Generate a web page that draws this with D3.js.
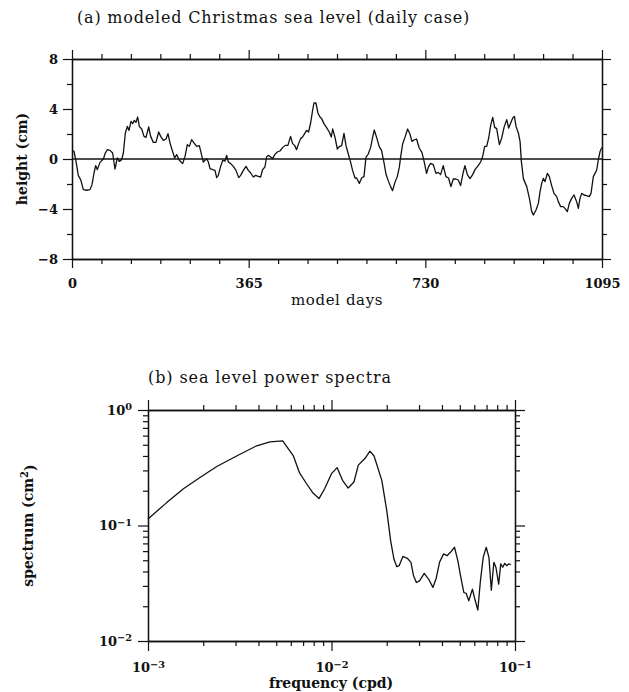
<!DOCTYPE html>
<html>
<head>
<meta charset="utf-8">
<script src="https://cdn.jsdelivr.net/npm/d3@7"></script>
<style>
  html, body { margin: 0; padding: 0; background: #fff; }
  svg { display: block; }
  text { font-family: "DejaVu Serif", "Liberation Serif", serif; fill: #111; }
</style>
</head>
<body>
<svg id="chart" width="629" height="692"></svg>
<script>
// ---------- Panel (a): modeled sea level (days, cm) ----------
const days = [0,4.1,8.3,13.1,17.9,23.4,30.3,37.2,41.3,45.5,48.9,52.4,57.9,64.8,68.9,73,78.5,84,88.8,93.7,97.8,102.6,106.1,110.2,114.3,117.8,121.9,125.4,128.8,132.2,135.7,139.1,144,148.8,152.9,158.4,162.5,168,173.5,179.1,183.2,188.7,194.2,198.3,202.5,206.6,212.1,216.2,221.8,228.6,233.5,238.3,242.4,247.2,252,257.6,263.1,
267.9,271.3,274.8,278.2,281.7,285.1,290.6,295.4,298.9,302.3,307.1,311.3,316.1,319.5,323,327.8,333.3,338.8,344.4,348.5,354,359.5,364.3,369.1,374.6,379.4,384.9,389.7,393.8,398.6,402,405.5,410.3,414.5,419.3,424.1,429.6,435.1,440.6,446.1,451.6,455.8,459.9,464,468.2,472.3,476.4,480.6,484.7,488.8,493,497.1,499.9,504,508.1,512.3,515.7,520.5,526,531.5,
535.7,538.5,543.4,548.2,552.3,557.1,561.9,566.1,570.9,575.7,579.8,584.7,588.1,593.6,598.4,603.2,607.3,612.1,617,621.1,624.5,629.3,634.8,639.6,644.5,648.6,653.4,658.2,662.4,667.2,672,676.2,678.9,683.1,687.9,693.4,698.2,702.3,706.4,711.9,717.4,722.9,727.1,732.6,736.7,740.9,746.4,751.9,756.7,761.5,767,772.5,778,782.9,787.7,793.2,798,802.8,808.3,811.8,
816.8,822.3,827.8,832.6,839.5,844.3,848.5,852.6,856.7,860.9,865,869.2,873.3,877.4,883,887.8,892.6,898.1,902.2,906.4,910.5,914,917.4,922.2,925.7,928.4,932.6,
939.5,945,949.8,953.2,958.7,963.5,967,970.4,973.8,977.3,982.1,986.2,991,995.8,1001.4,1004.8,1009.6,1015.1,1018.5,1023.4,1027.5,1032.3,1037.1,1042.6,1046.1,1049.5,1053,1057.8,1063.3,1068.8,1072.3,1077.1,1080.5,1084,1087.4,1090.9,1094.3];
const heights = [0.69,0.62,-0.19,-1.33,-1.65,-2.45,-2.5,-2.45,-2.05,-1.12,-0.53,-0.85,-0.27,0,0.48,0.75,0.69,0.48,-0.8,0.08,-0.19,-0.05,0.48,2.08,2.61,2.29,3.01,2.83,3.09,2.93,3.36,2.61,2.4,1.81,1.73,2.56,1.81,1.33,1.33,2.16,1.81,1.49,1.6,2.03,1.28,0.75,0.08,0.35,-0.1,-0.37,0.21,1.15,1.01,1.55,1.28,1.01,1.07,
0.29,-0.24,-0.1,0.03,-0.24,-0.77,-0.85,-0.91,-1.49,-1.31,-0.59,-0.11,-0.16,0.29,-0.24,-0.37,-0.59,-0.91,-1.49,-1.31,-0.91,-0.59,-0.91,-1.12,-1.44,-1.31,-1.39,-1.44,-0.85,-0.64,0.16,0.29,0.16,0.03,0.37,0.56,0.64,0.91,1.09,1.09,1.81,1.23,1.09,0.75,1.23,1.63,1.76,2.03,2.29,2.16,2.88,3.89,4.48,4.48,3.68,3.36,3.23,2.83,2.51,2.16,
1.76,2.4,1.73,0.8,0.99,1.07,2.05,1.07,0.4,-0.27,-0.93,-1.52,-1.52,-1.95,-1.52,-1.41,0.13,0.4,0.93,1.73,2.32,1.73,0.99,0.67,-0.27,-1.2,-1.73,-2.21,-2.53,-1.87,-1.41,-0.67,0.13,1.2,1.73,2.4,2.0,1.41,1.52,1.6,0.88,0.53,-0.13,-1.15,-0.61,-0.35,-0.45,-1.15,-1.07,-1.25,-0.53,-1.41,-1.52,-2.21,-1.6,-1.6,-1.68,-2.13,-1.07,-0.53,
-1.25,-1.57,-1.25,-0.85,-0.51,-0.24,0.21,1.01,1.01,1.68,2.69,3.33,2.53,2.43,1.15,1.68,2.53,3.15,2.48,2.88,3.28,3.41,2.61,2.08,1.41,-0.19,-1.57,
-2.21,-3.15,-4.21,-4.48,-4.08,-3.55,-2.61,-1.95,-1.55,-1.81,-1.15,-1.41,-2.13,-2.75,-3.01,-3.41,-3.81,-3.81,-3.95,-4.21,-3.55,-3.15,-2.88,-3.41,-3.95,-3.15,-2.75,-2.88,-2.93,-3.01,-2.75,-1.41,-1.15,-0.88,-0.08,0.59,0.91];
const dayTicksMajor = [0, 365, 730, 1095];
const heightTicksMajor = [-8, -4, 0, 4, 8];
const heightTicksMinor = [-6, -2, 2, 6];

// ---------- Panel (b): power spectrum (cpd, cm^2) ----------
const freq = [0.001,0.00126,0.00156,0.00192,0.00237,0.00304,0.00391,0.00462,0.00542,0.0062,0.0067,0.0073,0.00793,0.00855,0.00919,0.01,0.01074,0.01148,0.01233,0.01325,0.014,0.0152,0.0162,0.01706,0.0188,0.02,0.021,0.0219,0.0227,0.0234,0.0245,0.0259,0.0271,0.028,0.029,0.0302,0.032,0.0338,0.0357,0.0372,0.0388,0.0408,0.0426,0.0445,0.0468,0.0488,0.0505,0.0526,0.0542,0.056,0.0586,0.0601,0.0627,0.0648,0.0671,0.0697,0.0721,0.0743,0.0767,0.0787,0.0815,0.0836,0.0857,0.0879,0.0901,0.0924,0.0948];
const spectrum = [0.114,0.157,0.208,0.26,0.324,0.40,0.49,0.53,0.54,0.40,0.285,0.231,0.191,0.171,0.209,0.281,0.317,0.246,0.211,0.238,0.333,0.38,0.44,0.40,0.246,0.135,0.074,0.051,0.044,0.045,0.054,0.052,0.048,0.0367,0.0321,0.0332,0.0385,0.0344,0.0291,0.035,0.048,0.0568,0.0548,0.0586,0.0648,0.0497,0.0367,0.0263,0.0258,0.0223,0.0281,0.0238,0.0185,0.0332,0.053,0.0648,0.053,0.0275,0.048,0.0435,0.0311,0.0465,0.0435,0.047,0.0449,0.0465,0.0458];
const freqTicksMajor = [0.001, 0.01, 0.1];
const freqExp = ["\u22123", "\u22122", "\u22121"];
const specTicksMajor = [0.01, 0.1, 1];
const specExp = ["\u22122", "\u22121", "0"];

const svg = d3.select("#chart");
const INK = "#111";

function styleAxis(g) {
  g.selectAll("path.domain").attr("stroke", INK).attr("stroke-width", 1.3);
  g.selectAll(".tick line").attr("stroke", INK).attr("stroke-width", 1.2);
  g.selectAll(".tick text")
    .attr("font-family", '"DejaVu Serif", serif')
    .attr("font-weight", "bold")
    .attr("font-size", 13)
    .attr("fill", INK);
}

// ================= Panel (a) =================
const xA = d3.scaleLinear().domain([0, 1095]).range([72, 602]);
const yA = d3.scaleLinear().domain([-8, 8]).range([259, 59]);
const dayMinor = d3.range(0, 1095.1, 365 / 6).filter(d => !dayTicksMajor.some(m => Math.abs(m - d) < 1));

svg.append("text").attr("x", 77).attr("y", 23)
  .attr("font-size", 16).attr("letter-spacing", 0.8).text("(a) modeled Christmas sea level (daily case)");

// bottom
svg.append("g").attr("transform", `translate(0,${yA(-8)})`)
  .call(d3.axisBottom(xA).tickValues(dayMinor).tickSize(5).tickSizeOuter(0).tickFormat(""))
  .call(styleAxis);
svg.append("g").attr("transform", `translate(0,${yA(-8)})`)
  .call(d3.axisBottom(xA).tickValues(dayTicksMajor).tickSize(9).tickSizeOuter(0).tickPadding(11).tickFormat(d3.format("d")))
  .call(styleAxis);
// top
svg.append("g").attr("transform", `translate(0,${yA(8)})`)
  .call(d3.axisTop(xA).tickValues(dayMinor).tickSize(5).tickSizeOuter(0).tickFormat(""))
  .call(styleAxis);
svg.append("g").attr("transform", `translate(0,${yA(8)})`)
  .call(d3.axisTop(xA).tickValues(dayTicksMajor).tickSize(9).tickSizeOuter(0).tickFormat(""))
  .call(styleAxis);
// left
svg.append("g").attr("transform", `translate(${xA(0)},0)`)
  .call(d3.axisLeft(yA).tickValues(heightTicksMinor).tickSize(5).tickSizeOuter(0).tickFormat(""))
  .call(styleAxis);
svg.append("g").attr("transform", `translate(${xA(0)},0)`)
  .call(d3.axisLeft(yA).tickValues(heightTicksMajor).tickSize(9).tickSizeOuter(0).tickPadding(5).tickFormat(d => d < 0 ? "\u2212" + Math.abs(d) : String(d)))
  .call(styleAxis);
// right
svg.append("g").attr("transform", `translate(${xA(1095)},0)`)
  .call(d3.axisRight(yA).tickValues(heightTicksMinor).tickSize(5).tickSizeOuter(0).tickFormat(""))
  .call(styleAxis);
svg.append("g").attr("transform", `translate(${xA(1095)},0)`)
  .call(d3.axisRight(yA).tickValues(heightTicksMajor).tickSize(9).tickSizeOuter(0).tickFormat(""))
  .call(styleAxis);

// zero line
svg.append("line").attr("x1", xA(0)).attr("x2", xA(1095)).attr("y1", yA(0)).attr("y2", yA(0))
  .attr("stroke", INK).attr("stroke-width", 1.3);

svg.append("path")
  .datum(days.map((d, i) => [d, heights[i]]))
  .attr("fill", "none").attr("stroke", INK).attr("stroke-width", 1.3).attr("stroke-linejoin", "round")
  .attr("d", d3.line().x(d => xA(d[0])).y(d => yA(d[1])));

svg.append("text").attr("x", 337).attr("y", 305).attr("text-anchor", "middle")
  .attr("font-size", 15).attr("letter-spacing", 0.6).text("model days");
svg.append("text").attr("transform", `translate(27,${yA(0)}) rotate(-90)`).attr("text-anchor", "middle")
  .attr("font-size", 14).attr("font-weight", "bold").text("height (cm)");

// ================= Panel (b) =================
const xB = d3.scaleLog().domain([1e-3, 1e-1]).range([148, 515]);
const yB = d3.scaleLog().domain([1e-2, 1]).range([641, 410]);
const logMinor = (lo, hi) => { const a = []; for (let e = lo; e < hi; e++) for (let m = 2; m <= 9; m++) a.push(m * Math.pow(10, e)); return a; };
const freqMinor = logMinor(-3, -1);
const specMinor = logMinor(-2, 0);

svg.append("text").attr("x", 148).attr("y", 383)
  .attr("font-size", 16).attr("letter-spacing", 0.9).text("(b) sea level power spectra");

function supLabels(exps) {
  return g => g.selectAll(".tick text").each(function(d, i) {
    const t = d3.select(this);
    t.text(null);
    t.append("tspan").text("10");
    t.append("tspan").attr("dy", "-0.45em").attr("font-size", "0.75em").text(exps[i]);
  });
}

svg.append("g").attr("transform", `translate(0,${yB(1e-2)})`)
  .call(d3.axisBottom(xB).tickValues(freqMinor).tickSize(5).tickSizeOuter(0).tickFormat(""))
  .call(styleAxis);
svg.append("g").attr("transform", `translate(0,${yB(1e-2)})`)
  .call(d3.axisBottom(xB).tickValues(freqTicksMajor).tickSize(10).tickSizeOuter(0).tickPadding(12).tickFormat(() => "x"))
  .call(styleAxis).call(supLabels(freqExp));
svg.append("g").attr("transform", `translate(0,${yB(1)})`)
  .call(d3.axisTop(xB).tickValues(freqMinor).tickSize(5).tickSizeOuter(0).tickFormat(""))
  .call(styleAxis);
svg.append("g").attr("transform", `translate(0,${yB(1)})`)
  .call(d3.axisTop(xB).tickValues(freqTicksMajor).tickSize(10).tickSizeOuter(0).tickFormat(""))
  .call(styleAxis);
svg.append("g").attr("transform", `translate(${xB(1e-3)},0)`)
  .call(d3.axisLeft(yB).tickValues(specMinor).tickSize(5).tickSizeOuter(0).tickFormat(""))
  .call(styleAxis);
svg.append("g").attr("transform", `translate(${xB(1e-3)},0)`)
  .call(d3.axisLeft(yB).tickValues(specTicksMajor).tickSize(10).tickSizeOuter(0).tickPadding(6).tickFormat(() => "x"))
  .call(styleAxis).call(supLabels(specExp));
svg.append("g").attr("transform", `translate(${xB(1e-1)},0)`)
  .call(d3.axisRight(yB).tickValues(specMinor).tickSize(5).tickSizeOuter(0).tickFormat(""))
  .call(styleAxis);
svg.append("g").attr("transform", `translate(${xB(1e-1)},0)`)
  .call(d3.axisRight(yB).tickValues(specTicksMajor).tickSize(10).tickSizeOuter(0).tickFormat(""))
  .call(styleAxis);

svg.append("path")
  .datum(freq.map((f, i) => [f, spectrum[i]]))
  .attr("fill", "none").attr("stroke", INK).attr("stroke-width", 1.3).attr("stroke-linejoin", "round")
  .attr("d", d3.line().x(d => xB(d[0])).y(d => yB(d[1])));

svg.append("text").attr("x", 331).attr("y", 688).attr("text-anchor", "middle")
  .attr("font-size", 14).attr("font-weight", "bold").text("frequency (cpd)");
const sl = svg.append("text").attr("transform", `translate(33,${yB(0.1)}) rotate(-90)`).attr("text-anchor", "middle")
  .attr("font-size", 14).attr("font-weight", "bold");
sl.append("tspan").text("spectrum (cm");
sl.append("tspan").attr("dy", "-0.45em").attr("font-size", "0.72em").text("2");
sl.append("tspan").attr("dy", "0.45em").text(")");
</script>
</body>
</html>
